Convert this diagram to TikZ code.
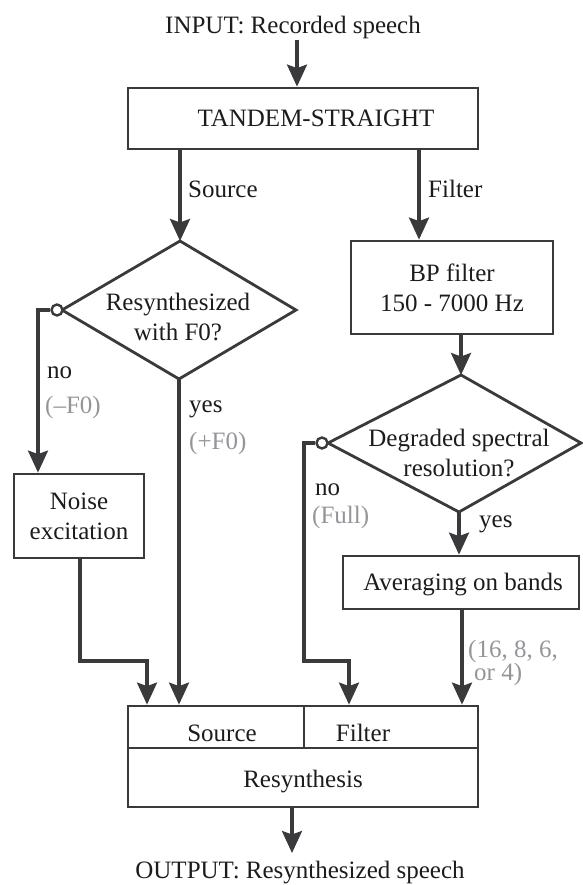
\documentclass[tikz,border=0pt]{standalone}
\usepackage{fontspec}
\setmainfont{Liberation Serif}
\usetikzlibrary{arrows.meta}
\definecolor{lc}{HTML}{3A393B}
\definecolor{tc}{HTML}{1E1B1C}
\definecolor{gc}{HTML}{939598}
\begin{document}
\begin{tikzpicture}[x=1pt,y=-1pt,
  every node/.style={font=\fontsize{25}{30}\selectfont, text=tc, inner sep=0pt},
  box/.style={draw=lc, line width=2.8pt, rectangle, align=center},
  dia/.style={draw=lc, line width=2.8pt, line join=miter},
  conn/.style={draw=lc, line width=3.1pt},
  arr/.style={conn, -{Stealth[length=22pt,width=20pt,inset=3.5pt]}},
  lbl/.style={anchor=base west},
  glbl/.style={anchor=base west, text=gc},
  ring/.style={circle, draw=lc, fill=white, line width=2.4pt, minimum size=11pt}
]
\useasboundingbox (0,0) rectangle (582,885);

% texts at top and bottom
\node[anchor=base] (inp) at (293,34) {INPUT: Recorded speech};
\node[anchor=base] (outp) at (300,878) {OUTPUT: Resynthesized speech};

% boxes
\node[box, minimum width=350pt, minimum height=61pt] (tandem) at (303,118.5) {\hspace*{26pt}TANDEM-STRAIGHT};
\node[box, minimum width=202pt, minimum height=93pt] (bp) at (452,287.5) {BP filter\\150 - 7000 Hz};
\node[box, minimum width=130pt, minimum height=84pt] (noise) at (79,516) {Noise\\excitation};
\node[box, minimum width=236pt, minimum height=53pt] (avg) at (461,582.5) {};
\node[anchor=base] (avgtxt) at (463,590) {Averaging on bands};

% resynthesis block
\node[box, minimum width=176pt, minimum height=42pt] (srcpart) at (216,727) {};
\node[box, minimum width=174pt, minimum height=42pt] (filtpart) at (391,727) {};
\node[box, minimum width=350pt, minimum height=59pt] (resyn) at (303,777.5) {};
\node[anchor=base] (srctxt) at (222,741) {Source};
\node[anchor=base] (filttxt) at (363,741) {Filter};
\node[anchor=base] (resyntxt) at (303,787) {Resynthesis};

% diamond 1
\coordinate (d1l) at (62,310);
\coordinate (d1t) at (180,241);
\coordinate (d1r) at (296,310);
\coordinate (d1b) at (179,379);
\draw[dia] (d1l) -- (d1t) -- (d1r) -- (d1b) -- cycle;
\node[align=center] (d1txt) at (178,317.5) {Resynthesized\\with F0?};
\node[ring] (c1) at (57,310) {};

% diamond 2
\coordinate (d2l) at (328,443);
\coordinate (d2t) at (461,375);
\coordinate (d2r) at (581,443);
\coordinate (d2b) at (459,512);
\draw[dia] (d2l) -- (d2t) -- (d2r) -- (d2b) -- cycle;
\node[align=center] (d2txt) at (459,452.5) {Degraded spectral\\resolution?};
\node[ring] (c2) at (322,443) {};

% connectors
\draw[arr] (inp.south -| 297,0) -- (297,0 |- tandem.north);
\draw[arr] (180,0 |- tandem.south) -- (d1t);
\draw[arr] (419,0 |- tandem.south) -- (419,0 |- bp.north);
\draw[arr] (461,0 |- bp.south) -- (d2t);
\draw[arr] (c1.west) -| (38,0 |- noise.north);
\draw[arr] (d1b) -- (d1b |- srcpart.north);
\draw[arr] (noise.south -| 80,0) |- (147,661) -- (147,0 |- srcpart.north);
\draw[arr] (c2.west) -| (304,661) -- (349,661) -- (349,0 |- filtpart.north);
\draw[arr] (d2b) -- (d2b |- avg.north);
\draw[arr] (462,0 |- avg.south) -- (462,0 |- filtpart.north);
\draw[arr] (292,0 |- resyn.south) -- (292,853);

% labels
\node[lbl] (lsrc) at (188,198) {Source};
\node[lbl] (lfilt) at (428,198) {Filter};
\node[lbl] (lno1) at (47,378) {no};
\node[glbl] (lmf0) at (45,413) {(–F0)};
\node[lbl] (lyes1) at (189,412) {yes};
\node[glbl] (lpf0) at (189,449) {(+F0)};
\node[lbl] (lno2) at (315,495) {no};
\node[glbl] (lfull) at (312,523) {(Full)};
\node[lbl] (lyes2) at (479,527) {yes};
\node[glbl] (lbands1) at (468,657) {(16, 8, 6,};
\node[glbl] (lbands2) at (474,680) {or 4)};
\end{tikzpicture}
\end{document}
